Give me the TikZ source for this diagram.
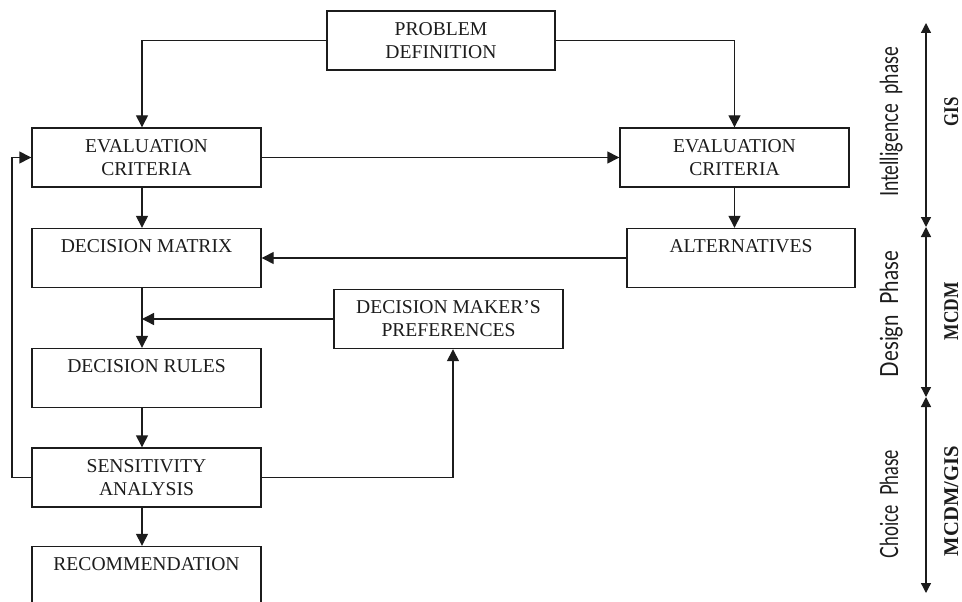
\documentclass[tikz,border=0pt]{standalone}
\usepackage{fontspec}
\setmainfont{Liberation Serif}
\newfontfamily\phasefont{Lato}
\usetikzlibrary{arrows.meta,calc}

\newcommand\nodefont{\fontsize{19.6}{23}\selectfont}
\newcommand\phaselabel[2]{\resizebox{#1}{\height}{\phasefont\fontsize{25}{25}\selectfont #2}}
\newcommand\toollabel[2]{\resizebox{#1}{\height}{\bfseries\fontsize{21}{21}\selectfont #2}}

\definecolor{ink}{RGB}{28,28,28}

\begin{document}
\begin{tikzpicture}[x=1pt,y=-1pt,
  box/.style={draw=ink, line width=1.4pt, minimum width=229pt, minimum height=59pt,
    align=center, font=\nodefont, text=ink, inner sep=0pt},
  arr/.style={draw=ink, line width=1.4pt, -{Triangle[length=12pt,width=12pt]}},
  axisarr/.style={draw=ink, line width=1.3pt,
    {Triangle[length=10pt,width=10pt]}-{Triangle[length=10pt,width=10pt]}},
  phase/.style={rotate=90, anchor=base, text=ink, inner sep=0pt},
  tool/.style={rotate=90, anchor=base, text=ink, inner sep=0pt}]

\useasboundingbox (0,0) rectangle (962,602);
\clip (0,0) rectangle (962,602);

% boxes
\node[box, minimum width=228pt] (pd)    at (441,40.5)   {PROBLEM\\DEFINITION};
\node[box] (evalL) at (146.5,157.5) {EVALUATION\\CRITERIA};
\node[box] (dm)    at (146.5,258)   {DECISION MATRIX\\\mbox{}};
\node[box] (dr)    at (146.5,378)   {DECISION RULES\\\mbox{}};
\node[box] (sa)    at (146.5,477.5) {SENSITIVITY\\ANALYSIS};
\node[box] (rec)   at (146.5,576)   {RECOMMENDATION\\\mbox{}};
\node[box] (evalR) at (734.5,157.5) {EVALUATION\\CRITERIA};
\node[box, minimum width=228pt] (alt) at (741,258) {ALTERNATIVES\\\mbox{}};
\node[box] (dmp)   at (448.5,319)   {DECISION MAKER'S\\PREFERENCES};

% routing guides
\coordinate (spine) at (142,0);
\coordinate (loop) at (12,0);
\coordinate (fb) at (453,0);

% connectors
\draw[arr] (pd.west) -| (spine |- evalL.north);
\draw[arr] (pd.east) -| (evalR.north);
\draw[arr] (evalL.east) -- (evalR.west);
\draw[arr] (spine |- evalL.south) -- (spine |- dm.north);
\draw[arr] (evalR.south) -- (evalR.south |- alt.north);
\draw[arr] (alt.west) -- (dm.east);
\draw[arr] (spine |- dm.south) -- (spine |- dr.north);
\draw[arr] (dmp.west) -- (spine |- dmp.west);
\draw[arr] (spine |- dr.south) -- (spine |- sa.north);
\draw[arr] (spine |- sa.south) -- (spine |- rec.north);
\draw[arr] (sa.west) -- (loop |- sa.west) -- (loop |- evalL.west) -- (evalL.west);
\draw[arr] (sa.east) -| (fb |- dmp.south);

% phase axis
\coordinate (a0) at (926,23);
\coordinate (a1) at (926,227);
\coordinate (a2) at (926,397);
\coordinate (a3) at (926,593);
\draw[axisarr] (a0) -- (a1);
\draw[axisarr] (a1) -- (a2);
\draw[axisarr] (a2) -- (a3);

% phase names
\node[phase] (intel)  at (898,122) {\phaselabel{150pt}{Intelligence\ \ phase}};
\node[phase] (design) at (898,314) {\phaselabel{126pt}{Design\ \ Phase}};
\node[phase] (choice) at (898,504) {\phaselabel{108pt}{Choice\ \ Phase}};

% tools
\node[tool] (gis)    at (958,112) {\toollabel{29pt}{GIS}};
\node[tool] (mcdm)   at (958,311) {\toollabel{58pt}{MCDM}};
\node[tool] (mcdmgis) at (958,501) {\toollabel{110pt}{MCDM/GIS}};
\end{tikzpicture}
\end{document}
